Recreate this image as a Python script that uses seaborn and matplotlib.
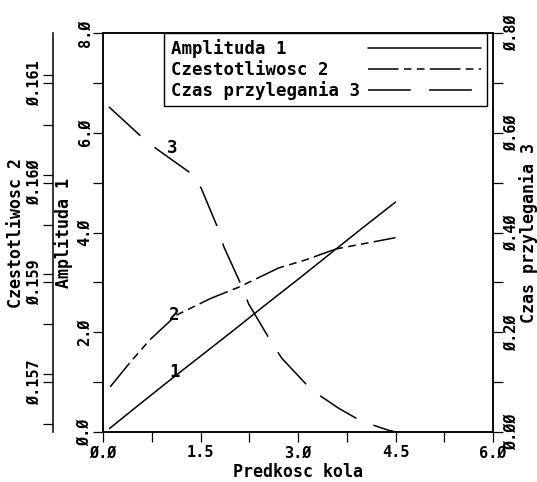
import numpy as np
import pandas as pd
import seaborn as sns
import matplotlib.pyplot as plt
from matplotlib.ticker import MultipleLocator, FixedLocator, FuncFormatter

# values
speed_amp = [0.1, 0.5, 1.0, 1.5, 2.0, 2.5, 3.0, 3.5, 4.0, 4.5]
amplituda = [0.07, 0.49, 1.01, 1.52, 2.03, 2.55, 3.06, 3.58, 4.10, 4.61]

speed_freq = [0.11, 0.41, 0.72, 1.13, 1.66, 2.09, 2.70, 3.11, 3.59, 4.5]
czestotliwosc = [0.15734, 0.15764, 0.15793, 0.15824, 0.15845, 0.15859,
                 0.15883, 0.15893, 0.15907, 0.15921]

speed_czas = [0.09, 0.60, 0.81, 1.37, 1.51, 1.76, 1.86, 2.14, 2.24, 2.60,
              2.75, 3.21, 3.44, 3.62, 3.97, 4.38, 4.5]
czas = [0.652, 0.591, 0.569, 0.517, 0.489, 0.411, 0.371, 0.291, 0.257, 0.178,
        0.148, 0.084, 0.064, 0.048, 0.022, 0.004, 0.0]

x_ticks = [0.0, 1.5, 3.0, 4.5, 6.0]
amp_ticks = [0, 2, 4, 6, 8]
freq_ticks = [0.1574, 0.15865, 0.1599, 0.16115]
czas_ticks = [0.0, 0.2, 0.4, 0.6, 0.8]

legend_labels = ['Amplituda 1', 'Czestotliwosc 2', 'Czas przylegania 3']

sns.set_theme(style='white')
plt.rcParams['font.family'] = ['DejaVu Sans Mono', 'DejaVu Sans']
plt.rcParams['font.size'] = 12.5
plt.rcParams['font.weight'] = 'bold'
plt.rcParams['axes.labelweight'] = 'bold'
plt.rcParams['axes.edgecolor'] = 'black'
plt.rcParams['axes.linewidth'] = 1.1
plt.rcParams['text.color'] = 'black'
plt.rcParams['axes.labelcolor'] = 'black'
plt.rcParams['xtick.color'] = 'black'
plt.rcParams['ytick.color'] = 'black'


def zero_fmt(fmt):
    return FuncFormatter(lambda v, p: (fmt % v).replace('0', '\u00d8'))


fig = plt.figure(figsize=(5.37, 4.82), dpi=100)
ax = fig.add_axes([103 / 537, 50 / 482, 390 / 537, 399 / 482])
ax2 = ax.twinx()
ax3 = ax.twinx()

lw = 1.1
sns.lineplot(x=speed_amp, y=amplituda, ax=ax, color='black', linewidth=lw,
             sort=False, estimator=None)
sns.lineplot(x=speed_freq, y=czestotliwosc, ax=ax2, color='black', linewidth=lw,
             sort=False, estimator=None)
sns.lineplot(x=speed_czas, y=czas, ax=ax3, color='black', linewidth=lw,
             sort=False, estimator=None)
l1 = ax.get_lines()[-1]
l2 = ax2.get_lines()[-1]
l3 = ax3.get_lines()[-1]
l2.set_dashes([20, 3.5, 5, 3.5, 5, 3.5])
l3.set_dashes([28, 12])

# main axes: x and Amplituda
ax.set_xlim(0, 6)
ax.set_ylim(0, 8)
ax.xaxis.set_major_locator(FixedLocator(x_ticks))
ax.xaxis.set_minor_locator(MultipleLocator(0.75))
ax.yaxis.set_major_locator(FixedLocator(amp_ticks))
ax.yaxis.set_minor_locator(MultipleLocator(1))
ax.xaxis.set_major_formatter(zero_fmt('%.1f'))
ax.yaxis.set_major_formatter(zero_fmt('%.1f'))
ax.tick_params(axis='both', which='both', direction='out', length=7.2,
               width=0.9, left=True, bottom=True, top=False, right=False)
ax.tick_params(axis='x', which='major', pad=2.5)
ax.tick_params(axis='y', which='major', pad=0.5, labelrotation=90)
ax.set_xlabel('Predkosc kola', labelpad=2)
ax.set_ylabel('Amplituda 1', labelpad=3)

# second left axis: Czestotliwosc
ax2.set_ylim(0.156775, 0.161775)
ax2.yaxis.tick_left()
ax2.yaxis.set_label_position('left')
ax2.spines['left'].set_position(('outward', 36))
for s in ['right', 'top', 'bottom']:
    ax2.spines[s].set_visible(False)
ax2.yaxis.set_major_locator(FixedLocator(freq_ticks))
ax2.yaxis.set_minor_locator(MultipleLocator(0.000625))
ax2.yaxis.set_major_formatter(zero_fmt('%.3f'))
ax2.tick_params(axis='y', which='both', direction='out', length=7.2, width=0.9,
                left=True, right=False)
ax2.tick_params(axis='y', which='major', pad=0.5, labelrotation=90)
ax2.set_ylabel('Czestotliwosc 2', labelpad=1.5)

# right axis: Czas przylegania
ax3.set_ylim(0, 0.8)
ax3.yaxis.set_major_locator(FixedLocator(czas_ticks))
ax3.yaxis.set_minor_locator(MultipleLocator(0.1))
ax3.yaxis.set_major_formatter(zero_fmt('%.2f'))
ax3.tick_params(axis='y', which='both', direction='out', length=7.2, width=0.9,
                right=True, left=False)
ax3.tick_params(axis='y', which='major', pad=0.5, labelrotation=90)
ax3.set_ylabel('Czas przylegania 3', labelpad=0.5, fontsize=12)

for a in (ax, ax2, ax3):
    for lab in a.get_yticklabels():
        lab.set_verticalalignment('center')

# curve numbers
ax.text(1.10, 1.20, '1', ha='center', va='center')
ax.text(1.10, 2.34, '2', ha='center', va='center')
ax.text(1.07, 5.69, '3', ha='center', va='center')

width = max(len(s) for s in legend_labels)
leg = ax3.legend([l1, l2, l3], [s.ljust(width) for s in legend_labels],
                 loc='upper right', bbox_to_anchor=(0.985, 1.0), borderaxespad=0,
                 frameon=True, fancybox=False, framealpha=1, edgecolor='black',
                 markerfirst=False, handlelength=6.5, handletextpad=0.5,
                 borderpad=0.35, labelspacing=0.15,
                 prop={'family': 'DejaVu Sans Mono', 'size': 12.5,
                       'weight': 'bold'})
leg.get_frame().set_linewidth(1.0)

fig.savefig('out.png', dpi=100)
